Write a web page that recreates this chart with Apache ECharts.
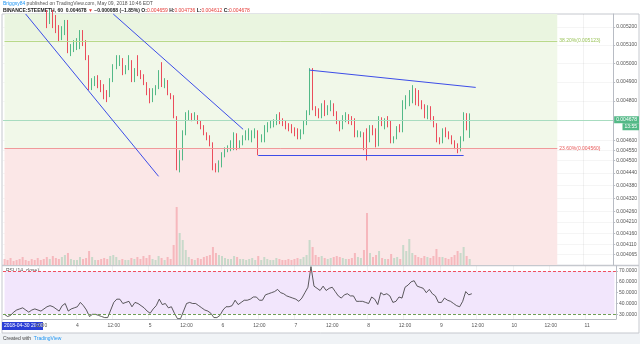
<!DOCTYPE html>
<html>
<head>
<meta charset="utf-8">
<script src="https://cdn.jsdelivr.net/npm/echarts@6/dist/echarts.min.js"></script>
<style>
html,body{margin:0;padding:0;background:#fff}
#chart{width:640px;height:344px}
</style>
</head>
<body>
<div id="chart"></div>
<script>
// hourly bars, first bar 2018-05-03 00:00, the first 14 sit above the visible range
const hiddenBars = 14;
const hourCount = 202;
const categories = [];
for (let h = 0; h < hourCount; h++) {
    const d = new Date(Date.UTC(2018, 4, 3, h));
    categories.push(d.toISOString().slice(0, 13).replace('T', ' ') + ':00');
}

// OHLC of the visible bars (ETH per STEEM)
const openP = [0.005285,0.005251,0.005274,0.005251,0.005194,0.005138,0.005183,0.005222,0.005072,0.005088,0.005099,0.005099,0.005166,0.005110,0.005033,0.004873,0.004899,0.004899,0.004894,0.004867,0.004841,0.004825,0.004910,0.004979,0.005006,0.005006,0.004952,0.004974,0.004979,0.004910,0.004963,0.004947,0.004931,0.004899,0.004846,0.004804,0.004841,0.004873,0.004952,0.004883,0.004899,0.004841,0.004830,0.004716,0.004511,0.004511,0.004635,0.004716,0.004722,0.004716,0.004716,0.004691,0.004665,0.004635,0.004615,0.004585,0.004467,0.004462,0.004487,0.004526,0.004551,0.004551,0.004560,0.004625,0.004565,0.004590,0.004615,0.004615,0.004625,0.004640,0.004640,0.004610,0.004610,0.004660,0.004671,0.004681,0.004691,0.004716,0.004691,0.004686,0.004665,0.004660,0.004645,0.004635,0.004615,0.004640,0.004686,0.004737,0.004963,0.004762,0.004742,0.004722,0.004773,0.004732,0.004762,0.004773,0.004732,0.004691,0.004660,0.004711,0.004716,0.004696,0.004691,0.004630,0.004630,0.004630,0.004605,0.004600,0.004665,0.004640,0.004575,0.004711,0.004686,0.004691,0.004676,0.004595,0.004610,0.004660,0.004650,0.004788,0.004804,0.004841,0.004846,0.004788,0.004783,0.004768,0.004722,0.004762,0.004706,0.004676,0.004600,0.004595,0.004650,0.004625,0.004615,0.004590,0.004565,0.004551,0.004610,0.004711,0.004659];
const closeP = [0.005251,0.005274,0.005251,0.005194,0.005138,0.005183,0.005222,0.005072,0.005088,0.005099,0.005099,0.005166,0.005110,0.005033,0.004873,0.004899,0.004899,0.004894,0.004867,0.004841,0.004825,0.004910,0.004979,0.005006,0.005006,0.004952,0.004974,0.004979,0.004910,0.004963,0.004947,0.004931,0.004899,0.004846,0.004804,0.004841,0.004873,0.004952,0.004883,0.004899,0.004841,0.004830,0.004716,0.004511,0.004511,0.004635,0.004716,0.004722,0.004716,0.004716,0.004691,0.004665,0.004635,0.004615,0.004585,0.004467,0.004462,0.004487,0.004526,0.004551,0.004551,0.004560,0.004625,0.004565,0.004590,0.004615,0.004615,0.004625,0.004640,0.004640,0.004610,0.004610,0.004660,0.004671,0.004681,0.004691,0.004716,0.004691,0.004686,0.004665,0.004660,0.004645,0.004635,0.004615,0.004640,0.004686,0.004737,0.004963,0.004762,0.004742,0.004722,0.004773,0.004732,0.004762,0.004773,0.004732,0.004691,0.004660,0.004711,0.004716,0.004696,0.004691,0.004630,0.004630,0.004630,0.004605,0.004600,0.004665,0.004640,0.004575,0.004711,0.004686,0.004691,0.004676,0.004595,0.004610,0.004660,0.004650,0.004788,0.004804,0.004841,0.004846,0.004788,0.004783,0.004768,0.004722,0.004762,0.004706,0.004676,0.004600,0.004595,0.004650,0.004625,0.004615,0.004590,0.004565,0.004551,0.004610,0.004711,0.004659,0.004678];
const lowP = [0.005194,0.005217,0.005194,0.005166,0.005116,0.005127,0.005155,0.005055,0.005039,0.005061,0.005072,0.005077,0.005094,0.005017,0.004857,0.004857,0.004878,0.004867,0.004846,0.004809,0.004794,0.004820,0.004899,0.004968,0.004985,0.004936,0.004941,0.004963,0.004899,0.004899,0.004931,0.004915,0.004883,0.004830,0.004788,0.004794,0.004830,0.004862,0.004873,0.004867,0.004830,0.004809,0.004711,0.004453,0.004443,0.004501,0.004625,0.004701,0.004696,0.004701,0.004681,0.004655,0.004625,0.004600,0.004570,0.004453,0.004443,0.004443,0.004467,0.004516,0.004541,0.004546,0.004551,0.004551,0.004556,0.004575,0.004600,0.004600,0.004590,0.004610,0.004526,0.004590,0.004590,0.004640,0.004660,0.004665,0.004676,0.004681,0.004671,0.004655,0.004645,0.004635,0.004620,0.004605,0.004605,0.004630,0.004676,0.004727,0.004752,0.004722,0.004711,0.004711,0.004722,0.004727,0.004747,0.004722,0.004681,0.004645,0.004655,0.004691,0.004681,0.004676,0.004615,0.004615,0.004615,0.004551,0.004501,0.004590,0.004625,0.004565,0.004570,0.004671,0.004655,0.004665,0.004585,0.004585,0.004605,0.004640,0.004640,0.004757,0.004773,0.004788,0.004778,0.004773,0.004757,0.004711,0.004706,0.004696,0.004665,0.004590,0.004580,0.004585,0.004615,0.004605,0.004580,0.004556,0.004536,0.004545,0.004595,0.004650,0.004612];
const highP = [0.005297,0.005297,0.005297,0.005268,0.005211,0.005205,0.005240,0.005240,0.005105,0.005127,0.005138,0.005183,0.005183,0.005127,0.005044,0.004920,0.004931,0.004936,0.004910,0.004888,0.004857,0.004920,0.004995,0.005044,0.005044,0.005028,0.004990,0.005044,0.005017,0.004974,0.005044,0.004963,0.004941,0.004899,0.004867,0.004867,0.004883,0.004963,0.005006,0.004920,0.004910,0.004841,0.004830,0.004722,0.004551,0.004650,0.004742,0.004752,0.004737,0.004742,0.004727,0.004701,0.004676,0.004640,0.004625,0.004590,0.004487,0.004501,0.004541,0.004565,0.004575,0.004600,0.004640,0.004635,0.004600,0.004625,0.004650,0.004660,0.004650,0.004660,0.004650,0.004630,0.004676,0.004691,0.004701,0.004706,0.004732,0.004742,0.004711,0.004701,0.004686,0.004681,0.004665,0.004660,0.004655,0.004701,0.004752,0.004974,0.004974,0.004773,0.004762,0.004788,0.004804,0.004778,0.004804,0.004788,0.004747,0.004701,0.004727,0.004742,0.004732,0.004722,0.004711,0.004650,0.004645,0.004640,0.004660,0.004676,0.004676,0.004660,0.004722,0.004716,0.004711,0.004722,0.004701,0.004620,0.004671,0.004681,0.004804,0.004830,0.004857,0.004883,0.004867,0.004857,0.004804,0.004783,0.004778,0.004773,0.004722,0.004686,0.004615,0.004660,0.004665,0.004645,0.004625,0.004600,0.004585,0.004620,0.004742,0.004737,0.004736];

// volume per bar, thousands of STEEM (all bars from 2018-05-03 00:00)
const volumeK = [6,5,7,4,5,6,8,5,4,6,5,7,5,6, 8,6,9,7,6,8,10,12,6,5,5,8,6,7, 14,8,5,5,6,7,6,9,10,8,5,6,5, 5,7,6,8,6,9,7,10,6,5,9,7,5,8,6, 20,58,32,25,15,8,6,5,7,6,8,9,10,18, 12,10,9,7,6,6,9,8,6,6,5,6,7,5, 9,5,8,6,5,5,7,6,5,5,6,5,6,7, 6,8,10,25,18,10,8,9,7,6,7,8,9,8, 7,6,6,7,12,8,7,15,52,12,8,10,14,7, 6,6,11,7,8,6,20,14,26,12,10,8,7,9, 8,7,9,16,8,8,7,6,8,10,14,12,18,9,6];

// RSI (14, close)
const rsi = [30,28,29,32,34,35,36,34,32,34,35,34,33,35, 37,38,37,35,33,38,40,33,35,36,37,41,38,34, 28,30,30,29,28,27,27,34,41,44,44,40,41,42, 37,41,40,38,36,33,31,35,38,44,39,40,36,37, 31,26,26,33,40,41,40,40,38,36,34,33,31,27, 27,29,34,37,37,38,43,39,41,43,43,44,46,46, 43,43,48,49,50,51,53,50,49,47,46,45,44,42, 45,50,55,74,56,54,52,56,52,54,55,51,47,45, 48,49,47,47,42,42,42,41,40,46,44,39,50,48, 49,47,41,42,46,45,55,57,60,61,56,55,54,50, 53,49,47,41,41,45,43,42,40,38,37,42,51,48,49];

const priceTicks = [0.005200,0.005100,0.005000,0.004900,0.004800,0.004700,0.004600,0.004550,0.004500,0.004440,0.004380,0.004320,0.004260,0.004210,0.004160,0.004110,0.004065];
const rsiTicks = [30, 40, 50, 60, 70];
const fib382 = 0.005123;
const fib236 = 0.004560;
const lastPrice = 0.004678;
// drawn trend lines: [bar index, price, bar index, price]
const trendLines = [
    [7, 0.005274, 51, 0.004424],
    [36, 0.005274, 79, 0.004655],
    [84, 0.004526, 152, 0.004526],
    [101, 0.004963, 156, 0.004871]
];
const fibEndBar = 183;

const ln = Math.log;
const yMin = ln(0.004019), yMax = ln(0.005274);
const up = '#53b987', down = '#eb4d5c';
const font = 'Liberation Sans, Arial, sans-serif';

const candleData = categories.map((c, i) => {
    const k = i - hiddenBars;
    if (k < 0 || k >= closeP.length) return '-';
    return [ln(openP[k]), ln(closeP[k]), ln(lowP[k]), ln(highP[k])];
});
const volData = categories.map((c, i) => {
    if (i >= volumeK.length) return '-';
    const k = i - hiddenBars;
    const isUp = k >= 0 && closeP[k] >= openP[k];
    return {value: volumeK[i], itemStyle: {color: isUp ? 'rgba(83,185,135,0.3)' : 'rgba(235,77,92,0.3)'}};
});
const rsiData = categories.map((c, i) => i < rsi.length ? rsi[i] : '-');

const isMark = (idx, v) => idx > 0 && (v.slice(11, 13) === '00' || v.slice(11, 13) === '12');
const timeLabel = v => v.slice(11, 13) === '00' ? String(+v.slice(8, 10)) : '12:00';

let myChart = echarts.init(document.getElementById('chart'));
myChart.setOption({
    animation: false,
    textStyle: {fontFamily: font},
    grid: [
        {left: 3, right: 23, top: 14, height: 251},
        {left: 3, right: 23, top: 266, height: 53}
    ],
    xAxis: [
        {type: 'category', gridIndex: 0, data: categories, boundaryGap: true,
         axisLine: {show: false}, axisTick: {show: false}, axisLabel: {show: false},
         splitLine: {show: true, interval: isMark, lineStyle: {color: 'rgba(0,0,0,0.05)'}}},
        {type: 'category', gridIndex: 1, data: categories, boundaryGap: true,
         axisLine: {show: true, lineStyle: {color: '#b8bcc4'}},
         axisTick: {show: false},
         axisLabel: {interval: isMark, formatter: timeLabel, fontSize: 5, color: '#555', margin: 4},
         splitLine: {show: true, interval: isMark, lineStyle: {color: 'rgba(0,0,0,0.05)'}}}
    ],
    yAxis: [
        {type: 'value', gridIndex: 0, position: 'right', min: yMin, max: yMax,
         axisLine: {show: true, lineStyle: {color: '#b8bcc4'}},
         axisTick: {show: true, length: 2, customValues: priceTicks.map(ln), lineStyle: {color: '#b8bcc4'}},
         axisLabel: {customValues: priceTicks.map(ln), formatter: v => Math.exp(v).toFixed(6), fontSize: 5, color: '#555', margin: 3},
         splitLine: {show: true, lineStyle: {color: 'rgba(0,0,0,0.04)'}}},
        {type: 'value', gridIndex: 0, min: 0, max: 251, show: false},
        {type: 'value', gridIndex: 1, position: 'right', min: 25.7, max: 74.6,
         axisLine: {show: true, lineStyle: {color: '#b8bcc4'}},
         axisTick: {show: true, length: 2, customValues: rsiTicks, lineStyle: {color: '#b8bcc4'}},
         axisLabel: {customValues: rsiTicks, formatter: v => v.toFixed(4), fontSize: 5, color: '#555', margin: 3},
         splitLine: {show: false}}
    ],
    series: [
        {
            name: 'STEEMETH', type: 'candlestick', xAxisIndex: 0, yAxisIndex: 0, z: 2,
            data: candleData, barWidth: 1,
            itemStyle: {color: up, color0: down, borderColor: up, borderColor0: down, borderWidth: 1},
            markArea: {
                silent: true,
                data: [
                    [{xAxis: 0, yAxis: yMax, itemStyle: {color: '#eaf5e0'}}, {xAxis: fibEndBar, yAxis: ln(fib382)}],
                    [{xAxis: 0, yAxis: ln(fib382), itemStyle: {color: '#f1f8e9'}}, {xAxis: fibEndBar, yAxis: ln(fib236)}],
                    [{xAxis: 0, yAxis: ln(fib236), itemStyle: {color: '#fbe7e7'}}, {xAxis: fibEndBar, yAxis: yMin}]
                ]
            },
            markLine: {
                silent: true, symbol: 'none', animation: false,
                data: [
                    [{coord: [0, ln(fib382)], lineStyle: {color: '#b9d98a', width: 1, type: 'solid'},
                      label: {show: true, position: 'end', formatter: '38.20%(0.005123)', color: '#9bc45a', fontSize: 5, distance: 2}},
                     {coord: [fibEndBar, ln(fib382)]}],
                    [{coord: [0, ln(fib236)], lineStyle: {color: '#f09a9a', width: 1, type: 'solid'},
                      label: {show: true, position: 'end', formatter: '23.60%(0.004560)', color: '#e85a5a', fontSize: 5, distance: 2}},
                     {coord: [fibEndBar, ln(fib236)]}],
                    {yAxis: ln(lastPrice), lineStyle: {color: '#a8dcc0', width: 1, type: 'solid'},
                     label: {show: true, position: 'end', distance: 1, offset: [0, 3],
                             formatter: '{a|0.004678}\n{b|13:55}',
                             rich: {a: {backgroundColor: up, color: '#fff', fontSize: 5, padding: [1, 2]},
                                    b: {backgroundColor: up, color: '#fff', fontSize: 5, padding: [1, 2], align: 'right'}}}}
                ].concat(trendLines.map(t => [
                    {coord: [t[0], ln(t[1])], lineStyle: {color: '#3d4de8', width: 1, type: 'solid'}, label: {show: false}},
                    {coord: [t[2], ln(t[3])]}
                ]))
            }
        },
        {
            name: 'Vol', type: 'bar', xAxisIndex: 0, yAxisIndex: 1, z: 3,
            data: volData, barWidth: 2
        },
        {
            name: 'RSI', type: 'line', xAxisIndex: 1, yAxisIndex: 2,
            data: rsiData, symbol: 'none', lineStyle: {color: '#333', width: 0.8},
            markArea: {silent: true, data: [[{xAxis: 0, yAxis: 70, itemStyle: {color: '#f2e6fc'}}, {xAxis: hourCount - 1, yAxis: 30}]]},
            markLine: {
                silent: true, symbol: 'none', label: {show: false},
                data: [
                    {yAxis: 70, lineStyle: {color: '#ef4f5f', type: [3, 2], width: 1, opacity: 1}},
                    {yAxis: 30, lineStyle: {color: '#6f9f55', type: [3, 2], width: 1, opacity: 1}}
                ]
            }
        }
    ],
    graphic: [
        {type: 'rect', shape: {x: 0, y: 333, width: 640, height: 11}, style: {fill: '#f0f3f6'}, silent: true},
        {type: 'rect', shape: {x: 2, y: 14, width: 637, height: 319}, style: {fill: 'none', stroke: '#c5c8ce', lineWidth: 1}, silent: true},
        {type: 'line', shape: {x1: 2, y1: 265.5, x2: 639, y2: 265.5}, style: {stroke: '#c5c8ce', lineWidth: 1.5}, silent: true},
        {type: 'text', left: 3, top: 1, style: {
            text: '{n|Briggsy84} published on TradingView.com, May 09, 2018 10:46 EDT',
            fontSize: 5, fill: '#555', fontFamily: font,
            rich: {n: {fill: '#2196f3', fontSize: 5, fontFamily: font}}}},
        {type: 'text', left: 3, top: 8, style: {
            text: '{k|BINANCE:STEEMETH, 60}  {k|0.004678} {r|▼} {k|−0.000088 (−1.85%)} {k|O:}{r|0.004659} {k|H:}{r|0.004736} {k|L:}{r|0.004612} {k|C:}{r|0.004678}',
            fontSize: 5, fontFamily: font,
            rich: {k: {fill: '#222', fontSize: 5, fontWeight: 'bold', fontFamily: font},
                   r: {fill: '#e53935', fontSize: 5, fontFamily: font}}}},
        {type: 'text', left: 6, top: 17, style: {text: 'Steem / Ethereum, 60, BINANCE', fontSize: 5, fill: '#555', fontFamily: font}},
        {type: 'text', left: 6, top: 25, style: {text: 'Vol (20)', fontSize: 5, fill: '#555', fontFamily: font}},
        {type: 'text', left: 6, top: 268, style: {text: 'RSI (14, close)', fontSize: 5, fill: '#555', fontFamily: font}},
        {type: 'rect', shape: {x: 2, y: 322, width: 41, height: 8}, style: {fill: '#2b3fd6'}, silent: true},
        {type: 'text', left: 4, top: 323.5, style: {text: '2018-04-30 20:00:00', fontSize: 5, fill: '#fff', fontFamily: font}},
        {type: 'text', left: 3, top: 336, style: {
            text: 'Created with  {b|TradingView}', fontSize: 5, fill: '#444', fontFamily: font,
            rich: {b: {fill: '#2196f3', fontSize: 5, fontFamily: font}}}}
    ]
});
</script>
</body>
</html>
